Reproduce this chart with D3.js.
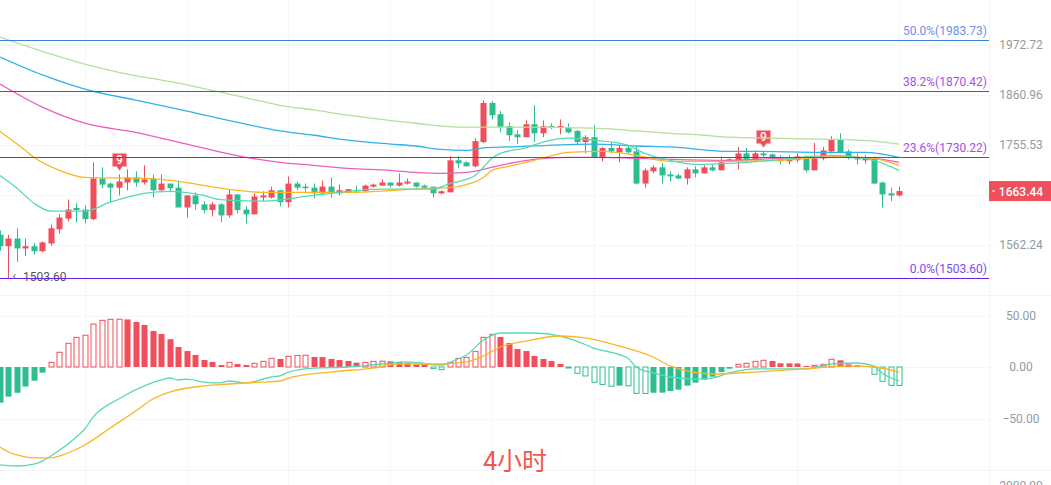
<!DOCTYPE html>
<html><head><meta charset="utf-8">
<style>
html,body{margin:0;padding:0;background:#fff;overflow:hidden}
svg{display:block}
text{font-family:Roboto,"Noto Sans CJK SC",sans-serif}
</style>
<script src="https://cdn.jsdelivr.net/npm/d3@7/dist/d3.min.js"></script>
</head><body>
<svg id="c" width="1051" height="485"></svg>
<script>
// ---------- data ----------
const open=[1581,1560,1574,1556,1560,1551,1565,1591,1611,1631,1628,1610,1688,1678,1670,1680,1690,1680,1688,1665,1678,1670,1632,1655,1638,1627,1638,1617,1657,1628,1619,1651,1651,1665,1642,1678,1672,1670,1659,1672,1659,1661,1665,1663,1672,1674,1680,1674,1678,1680,1674,1672,1659,1661,1724,1720,1712,1761,1843,1819,1794,1777,1771,1798,1779,1794,1792,1790,1784,1761,1771,1730,1749,1740,1749,1742,1678,1702,1710,1696,1694,1688,1706,1698,1710,1704,1724,1724,1738,1726,1738,1736,1728,1722,1724,1732,1704,1728,1742,1767,1742,1728,1724,1728,1680,1659,1655];
const high=[1589,1581,1593,1574,1565,1569,1600,1619,1647,1640,1636,1720,1710,1680,1696,1706,1702,1714,1696,1696,1678,1684,1655,1661,1644,1642,1640,1667,1657,1634,1659,1663,1672,1665,1692,1682,1678,1678,1684,1690,1676,1667,1674,1676,1678,1686,1680,1698,1688,1680,1676,1672,1665,1732,1732,1722,1769,1849,1847,1826,1802,1786,1806,1838,1806,1800,1808,1800,1786,1775,1796,1751,1761,1755,1755,1753,1708,1714,1718,1702,1698,1710,1712,1714,1716,1732,1728,1751,1749,1744,1742,1738,1734,1734,1738,1734,1759,1751,1773,1779,1746,1738,1734,1732,1682,1670,1672];
const low=[1552,1503.6,1532,1542,1545,1549,1561,1583,1606,1604,1602,1608,1669,1642,1655,1665,1672,1676,1651,1661,1661,1632,1613,1628,1621,1615,1604,1613,1621,1602,1619,1644,1649,1634,1632,1665,1659,1649,1657,1651,1655,1659,1659,1661,1670,1674,1670,1672,1676,1670,1669,1651,1657,1661,1708,1712,1710,1759,1808,1781,1763,1757,1771,1761,1771,1788,1777,1779,1757,1738,1728,1722,1738,1720,1736,1676,1670,1698,1678,1682,1686,1676,1690,1698,1702,1704,1720,1706,1718,1720,1730,1724,1716,1716,1720,1700,1704,1724,1740,1738,1726,1716,1718,1678,1632,1644,1653];
const close=[1560,1574,1556,1560,1551,1567,1593,1613,1628,1627,1610,1688,1676,1670,1682,1690,1680,1686,1665,1678,1669,1632,1655,1638,1627,1638,1617,1657,1627,1619,1653,1655,1665,1642,1678,1670,1669,1659,1672,1659,1665,1667,1663,1674,1676,1680,1674,1680,1682,1672,1670,1659,1663,1724,1718,1712,1763,1843,1817,1792,1775,1771,1798,1779,1794,1792,1794,1781,1761,1771,1730,1749,1742,1749,1740,1678,1704,1710,1694,1692,1688,1706,1698,1710,1704,1720,1726,1738,1726,1738,1734,1730,1722,1728,1732,1704,1728,1744,1765,1740,1730,1726,1728,1678,1657,1655,1663.44];

const ma1Idx=[0,6,10,14,21,29,33,37,41,45,49,54,60,70,75,79,83,86,91,97,103,106];
const ma1=[1990,1951,1928,1910,1886,1854,1838,1828,1817,1808,1800,1792,1792,1790,1784,1779,1775,1771,1769,1767,1763,1757];
const ma2Idx=[0,5,10,16,21,29,33,37,41,46,49,52,55,57,60,70,75,79,86,89,97,102,106];
const ma2=[1944,1904,1873,1849,1830,1798,1784,1775,1765,1757,1753,1746,1744,1749,1751,1757,1753,1751,1742,1742,1740,1740,1730];
const ma3Idx=[0,5,10,16,21,29,33,37,41,46,49,52,55,57,59,63,67,71,75,79,86,92,99,103,106];
const ma3=[1884,1834,1800,1781,1761,1730,1720,1714,1708,1704,1700,1698,1700,1706,1714,1726,1730,1730,1728,1726,1724,1728,1730,1728,1720];
const ma4Idx=[0,3,4,7,10,17,22,26,31,41,51,53,55,57,58,60,63,67,71,75,79,86,92,99,103,106];
const ma4=[1783,1744,1730,1704,1690,1688,1680,1669,1661,1661,1669,1670,1676,1690,1704,1712,1724,1740,1742,1734,1722,1722,1724,1732,1728,1714];
const ma5Idx=[0,2,4,6,10,13,17,20,24,26,31,37,45,51,53,55,56,57,58,59,62,64,67,70,74,76,79,82,86,91,98,103,106];
const ma5=[1694,1669,1640,1625,1625,1642,1659,1663,1655,1647,1644,1655,1667,1667,1678,1686,1694,1710,1728,1738,1749,1761,1769,1765,1755,1738,1724,1716,1718,1724,1734,1724,1704];

const hist=[-34.6,-28.8,-25,-19,-13.3,-5.5,4.5,14.3,23,28.8,30.8,41.7,45.3,46.3,46.4,46.2,43.7,40.8,35,32,27,19.4,15.5,11.7,6.8,4.9,1.9,4.5,2.9,1.9,3.6,5.5,8.4,7.8,10.4,11.2,11.4,9.7,9.6,7.8,6.8,5.8,4.2,4.5,5.5,5.6,5.5,4.9,4.2,2.6,2.5,-1.6,-2.6,4.5,8.4,9.4,15.2,28.8,31.7,29.1,23.3,17.5,15.5,10.7,7.8,5.8,2.9,-1,-6.1,-8.7,-14.9,-17.1,-18.7,-18.1,-18.3,-25.6,-25.7,-25,-24.9,-23.3,-22,-18.1,-15.2,-12.3,-9.4,-4.9,-1.6,2.6,3.6,5.5,6.5,5.8,3.6,3.5,3.4,1,1.6,2.6,7.5,6.5,2.6,1.6,1,-7.1,-13.9,-17.8,-17.9];
const difIdx=[0,2,4,5,6,9,10,11,14,17,19,20,21,22,24,26,27,29,32,33,34,37,41,45,48,52,54,55,57,59,61,63,66,68,70,74,75,77,79,82,84,86,89,95,98,101,103,104,106];
const dif=[-95.1,-96.1,-94.2,-91.3,-86.4,-68,-60.2,-48.5,-31.1,-18.4,-12.6,-10.7,-12.6,-11.7,-14.6,-15.5,-13.6,-15.5,-9.7,-8.7,-4.9,-1,0,2.9,4.9,1.9,7.8,11.7,26.2,33,33,33,30.1,25.2,18.4,8.7,0,-5.8,-9.7,-11.7,-10.7,-5.8,-1.9,-1.9,2.9,3.9,1,-5.8,-13.6];
const deaIdx=[0,1,2,4,6,8,10,13,16,18,20,24,27,31,33,34,39,44,47,52,55,57,59,62,66,69,73,77,79,84,89,95,100,103,106];
const dea=[-77.7,-82.5,-85.4,-88.3,-88.3,-83.5,-75.7,-59.2,-42.7,-31.1,-24.3,-18.4,-16.5,-14.6,-13.6,-10.7,-4.9,-1,2.9,2.9,4.9,10.7,19.4,25.2,30.1,28.2,20.4,9.7,1,-6.8,-4.9,-1.9,1,0,-4.9];

const priceTicks=[1972.72,1860.96,1755.53,1562.24];
const macdTicks=[50,0,-50];
const fibLabels=["50.0%","38.2%","23.6%","0.0%"];
const fibValues=[1983.73,1870.42,1730.22,1503.60];
const gridIdx=[10,22,34,46,58,70,82,94,106];
const markerIdx=[14,90];
const markerText=["9","9"];
const lastPrice=1663.44, lowPrice=1503.60, lowIdx=1;
const periodLabel="4小时", clippedTick="2000.00";

// ---------- scales ----------
const W=1051,H=485,plotR=989;
const RED="#f04e5a",GREEN="#2ebd91",GRID="#f6f6f6",SEP="#f4f4f4",AX="#939aa3";
const x=d3.scaleLinear().domain([0,106]).range([0,899]);
const y=d3.scaleLog().domain([1562.24,1972.72]).range([245,44.5]);
const yM=d3.scaleLinear().domain([-50,50]).range([418.5,315.5]);
const svg=d3.select("#c");
const px=i=>Math.round(x(i));

// grid
const g=svg.append("g");
g.selectAll(".v").data(gridIdx.map(x)).join("line")
  .attr("x1",d=>Math.round(d)+.5).attr("x2",d=>Math.round(d)+.5).attr("y1",0).attr("y2",H).attr("stroke",GRID);
g.append("line").attr("x1",plotR+.5).attr("x2",plotR+.5).attr("y1",0).attr("y2",H).attr("stroke",GRID);
const hy=[...priceTicks.map(y),195,...macdTicks.map(yM)];
g.selectAll(".h").data(hy).join("line")
  .attr("x1",0).attr("x2",995).attr("y1",d=>Math.round(d)+.5).attr("y2",d=>Math.round(d)+.5).attr("stroke",GRID);
g.selectAll(".s").data([295.5,470.5]).join("line")
  .attr("x1",0).attr("x2",W).attr("y1",d=>d).attr("y2",d=>d).attr("stroke",SEP);

// candles
const idx=d3.range(open.length);
const cg=svg.append("g");
cg.selectAll(".w").data(idx).join("line")
  .attr("x1",i=>px(i)+.5).attr("x2",i=>px(i)+.5)
  .attr("y1",i=>y(high[i])).attr("y2",i=>y(low[i]))
  .attr("stroke",i=>close[i]>=open[i]?RED:GREEN).attr("stroke-width",1);
cg.selectAll(".b").data(idx).join("rect")
  .attr("x",i=>px(i)-2.5).attr("width",6)
  .attr("y",i=>y(Math.max(open[i],close[i])))
  .attr("height",i=>Math.max(1.2,y(Math.min(open[i],close[i]))-y(Math.max(open[i],close[i]))))
  .attr("fill",i=>close[i]>=open[i]?RED:GREEN);

// TD "9" badges
const mg=svg.append("g").selectAll("g").data(markerIdx).join("g")
  .attr("transform",i=>`translate(${px(i)+.5},${y(high[i])})`);
mg.append("path").attr("d","M-7,-21H7V-8H3L0,-4L-3,-8H-7Z").attr("fill",RED).attr("stroke","#f7a9ae").attr("stroke-width",.6);
mg.append("text").attr("y",-10).attr("text-anchor","middle").attr("fill","#fff").attr("font-size",12).attr("font-weight",500).text((d,i)=>markerText[i]);

// moving averages
const lineP=d3.line().x(d=>x(d[0])).y(d=>y(d[1])).curve(d3.curveMonotoneX);
[[ma1Idx,ma1,"#b6df98"],[ma2Idx,ma2,"#32b2e6"],[ma3Idx,ma3,"#ee5ec0"],[ma4Idx,ma4,"#fcb526"],[ma5Idx,ma5,"#55dab8"]].forEach(([a,b,c])=>{
  svg.append("path").attr("d",lineP(a.map((v,k)=>[v,b[k]]))).attr("fill","none").attr("stroke",c).attr("stroke-width",1.3);
});

// low label
const lowG=svg.append("g");
lowG.append("text").attr("x",x(lowIdx)+4).attr("y",y(lowPrice)+2.5).attr("fill","#555").attr("font-size",12).text("‹");
lowG.append("text").attr("x",x(lowIdx)+14.5).attr("y",y(lowPrice)+3).attr("fill","#555").attr("font-size",12).text(lowPrice.toFixed(2));

// fibonacci levels
const fibLine=["#3f7fdc","#a31fe0","#a022c8","#6a1cf0"],fibText=["#6f8fe8","#a84fe8","#a84fe8","#7a4cf0"];
fibValues.forEach((v,k)=>{
  const yy=Math.floor(y(v)+.75)+.5;
  svg.append("line").attr("x1",0).attr("x2",plotR).attr("y1",yy).attr("y2",yy).attr("stroke",fibLine[k]).attr("stroke-width",1);
  svg.append("text").attr("x",987).attr("y",yy-5.5).attr("text-anchor","end").attr("fill",fibText[k]).attr("font-size",12)
    .text(`${fibLabels[k]}(${v.toFixed(2)})`);
});

// price axis
const axP=svg.append("g").attr("transform","translate(1021,0)")
  .call(d3.axisRight(y).tickValues(priceTicks).tickSize(0).tickPadding(0).tickFormat(d3.format(".2f")));
const axM=svg.append("g").attr("transform","translate(1021,0)")
  .call(d3.axisRight(yM).tickValues(macdTicks).tickSize(0).tickPadding(0).tickFormat(d3.format(".2f")));
[axP,axM].forEach(a=>{a.select(".domain").remove();
  a.selectAll("text").attr("text-anchor","middle").attr("fill",AX).attr("font-size",12).attr("font-family","Roboto");});
svg.append("text").attr("x",1021).attr("y",490).attr("text-anchor","middle").attr("fill",AX).attr("font-size",12).text(clippedTick);

// last price tag
const ly=y(lastPrice);
svg.append("rect").attr("x",plotR).attr("y",ly-10).attr("width",W-plotR).attr("height",20).attr("fill",RED);
svg.append("line").attr("x1",plotR+3).attr("x2",plotR+6).attr("y1",ly).attr("y2",ly).attr("stroke","#fff");
svg.append("text").attr("x",1021).attr("y",ly+4.5).attr("text-anchor","middle").attr("fill","#fff").attr("font-size",12).attr("font-weight",500).text(lastPrice.toFixed(2));

// MACD histogram
const hg=svg.append("g");
const hollow=i=>{const p=i?hist[i-1]:hist[i];return hist[i]>0?hist[i]>p:hist[i]<p;};
hg.selectAll("rect").data(idx).join("rect")
  .attr("x",i=>hollow(i)?px(i)-2:px(i)-2.5)
  .attr("width",i=>hollow(i)?5:6)
  .attr("y",i=>Math.min(yM(0),yM(hist[i])))
  .attr("height",i=>Math.max(1,Math.abs(yM(hist[i])-yM(0))))
  .attr("fill",i=>hollow(i)?"#fff":(hist[i]>=0?RED:GREEN))
  .attr("stroke",i=>hollow(i)?(hist[i]>=0?RED:GREEN):"none");

// DIF / DEA
const lineM=d3.line().x(d=>x(d[0])).y(d=>yM(d[1])).curve(d3.curveMonotoneX);
[[difIdx,dif,"#55dab8"],[deaIdx,dea,"#fcb526"]].forEach(([a,b,c])=>{
  svg.append("path").attr("d",lineM(a.map((v,k)=>[v,b[k]]))).attr("fill","none").attr("stroke",c).attr("stroke-width",1.3);
});

// period label
svg.append("text").attr("x",483).attr("y",469.5).attr("fill","#f4574c").attr("font-size",25)
  .attr("font-family","'Noto Sans CJK SC',sans-serif").text(periodLabel);
</script>
</body></html>
